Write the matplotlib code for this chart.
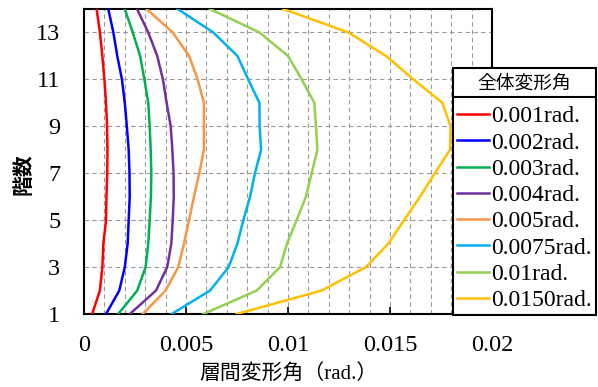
import matplotlib
matplotlib.use('Agg')
import matplotlib.pyplot as plt
from matplotlib.ticker import MultipleLocator
from matplotlib.lines import Line2D

SERIF = ['Liberation Serif', 'Noto Sans CJK JP']
JP = ['Noto Sans CJK JP', 'DejaVu Sans']

floors = list(range(1, 15))

labels = ['0.001rad.', '0.002rad.', '0.003rad.', '0.004rad.',
          '0.005rad.', '0.0075rad.', '0.01rad.', '0.0150rad.']
colors = ['#FF0000', '#0000FF', '#00B050', '#7030A0',
          '#F79646', '#00B0F0', '#92D050', '#FFC000']

d001 = [0.00040, 0.00078, 0.00090, 0.00095, 0.00108, 0.00110, 0.00114,
        0.00115, 0.00113, 0.00108, 0.00100, 0.00090, 0.00078, 0.00062]
d002 = [0.00108, 0.00173, 0.00200, 0.00214, 0.00219, 0.00224, 0.00223,
        0.00219, 0.00210, 0.00200, 0.00186, 0.00163, 0.00144, 0.00119]
d003 = [0.00168, 0.00261, 0.00302, 0.00315, 0.00322, 0.00328, 0.00330,
        0.00327, 0.00322, 0.00315, 0.00296, 0.00275, 0.00239, 0.00200]
d004 = [0.00225, 0.00353, 0.00408, 0.00428, 0.00435, 0.00440, 0.00439,
        0.00433, 0.00425, 0.00405, 0.00387, 0.00359, 0.00315, 0.00260]
d005 = [0.00288, 0.00400, 0.00462, 0.00490, 0.00515, 0.00539, 0.00565,
        0.00588, 0.00588, 0.00588, 0.00557, 0.00515, 0.00435, 0.00307]
d0075 = [0.00430, 0.00618, 0.00709, 0.00752, 0.00781, 0.00814, 0.00838,
         0.00868, 0.00861, 0.00860, 0.00805, 0.00752, 0.00634, 0.00459]
d01 = [0.00585, 0.00847, 0.00961, 0.00995, 0.01042, 0.01088, 0.01116,
       0.01144, 0.01137, 0.01129, 0.01067, 0.01000, 0.00860, 0.00618]
d015 = [0.00748, 0.01165, 0.01382, 0.01492, 0.01569, 0.01647, 0.01720,
        0.01794, 0.01797, 0.01757, 0.01615, 0.01480, 0.01296, 0.00977]
series = [d001, d002, d003, d004, d005, d0075, d01, d015]

xticks = [0, 0.005, 0.01, 0.015, 0.02]
xticklabels = ['0', '0.005', '0.01', '0.015', '0.02']
yticks = [1, 3, 5, 7, 9, 11, 13]

fig = plt.figure(figsize=(5.98, 3.87), dpi=100)
fig.patch.set_facecolor('white')
ax = fig.add_axes([84/598, 1 - 314/387, (492 - 84)/598, (314 - 9)/387])

for vals, c, lab in zip(series, colors, labels):
    ax.plot(vals, floors, color=c, lw=1.8, label=lab, zorder=3)

ax.set_xlim(0, 0.02)
ax.set_ylim(1, 14)
ax.set_xticks(xticks)
ax.set_xticklabels(xticklabels, family=SERIF, fontsize=17.5)
ax.set_yticks(yticks)
ax.set_yticklabels([str(v) for v in yticks], family=SERIF, fontsize=17.5)
ax.xaxis.set_minor_locator(MultipleLocator(0.001))
ax.tick_params(axis='x', which='major', direction='in', length=5, width=1.2, pad=15)
ax.tick_params(axis='x', which='minor', length=0)
ax.tick_params(axis='y', which='major', length=0, pad=17)

ax.grid(True, axis='x', which='both', color='#999999', ls=(0, (4, 3)), lw=0.8, zorder=1)
ax.grid(True, axis='y', which='major', color='#999999', ls=(0, (4, 3)), lw=0.8, zorder=1)
for s in ax.spines.values():
    s.set_linewidth(1.5)
    s.set_color('black')

ax.set_xlabel('層間変形角（rad.）', family=SERIF, fontsize=15, labelpad=6)
ax.set_ylabel('階数', family=JP, fontsize=15, fontweight='bold')
ax.yaxis.set_label_coords(-0.125, 0.46)

leg = ax.legend(loc='upper left', bbox_to_anchor=(453/598, 1 - 68/387),
                bbox_transform=fig.transFigure, borderaxespad=0,
                title='全体変形角', prop={'family': SERIF, 'size': 17},
                title_fontproperties={'family': JP, 'size': 13.5},
                frameon=True, fancybox=False, edgecolor='black', framealpha=1,
                handlelength=1.35, handletextpad=0.1, labelspacing=0.2,
                borderpad=0.18)
leg.get_frame().set_linewidth(1.5)
leg._legend_box.sep = 9

# separator line under the legend title
fig.canvas.draw()
lb = leg.get_window_extent()
tb = leg.get_title().get_window_extent()
ysep = (tb.y0 - 4) / fig.bbox.height
fig.add_artist(Line2D([lb.x0 / fig.bbox.width, lb.x1 / fig.bbox.width], [ysep, ysep],
                      color='black', lw=1.5, transform=fig.transFigure))

fig.savefig('out.png', dpi=100)
